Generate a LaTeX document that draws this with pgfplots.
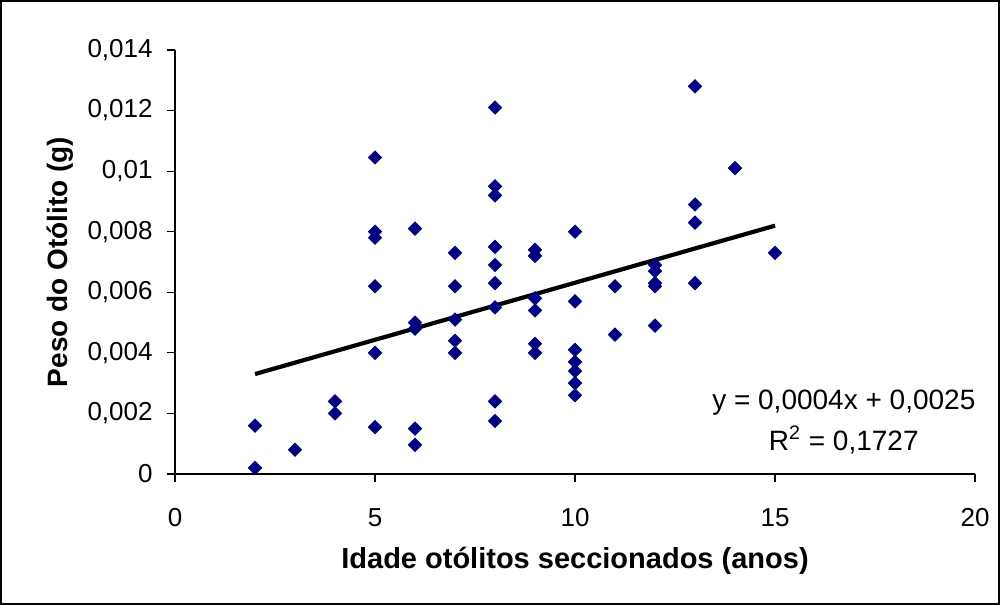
\documentclass[border=0pt]{standalone}
\usepackage{fontspec}
\setmainfont{Liberation Sans}
\usepackage{pgfplots}
\pgfplotsset{compat=1.18}
\definecolor{navyd}{RGB}{0,0,128}

\begin{document}
\begin{tikzpicture}
\fontsize{12}{14.4}\selectfont
\begin{axis}[
  at={(87.5pt,65.5pt)}, anchor=south west,
  scale only axis, width=400pt, height=212pt,
  xmin=0, xmax=20, ymin=0, ymax=0.014,
  xtick={0,5,10,15,20},
  ytick={0,0.002,0.004,0.006,0.008,0.01,0.012,0.014},
  scaled y ticks=false,
  axis x line=bottom, axis y line=left,
  axis line style={-, line width=0.6pt},
  tick align=outside, major tick length=4pt,
  tick style={black, line width=0.6pt},
  /pgf/number format/.cd, fixed, precision=3, use comma, assume math mode=true,
  /pgfplots/.cd,
  tick label style={font=\fontsize{13}{15.6}\selectfont},
  xticklabel style={yshift=-9pt},
  yticklabel style={xshift=-3pt},
  xlabel={\textbf{Idade otólitos seccionados (anos)}},
  ylabel={\textbf{Peso do Otólito (g)}},
  xlabel style={at={(axis description cs:0.5,-0.206)}, anchor=center, font=\fontsize{14.5}{17}\selectfont},
  ylabel style={at={(axis description cs:-0.143,0.5)}, anchor=center, font=\fontsize{14}{17}\selectfont},
  clip=false,
]
\addplot[only marks, mark=square*, mark size=2.35pt, mark options={rotate=45, fill=navyd, draw=navyd}] coordinates {
  (2,0.0016) (2,0.0002)
  (3,0.0008)
  (4,0.0024) (4,0.0020)
  (5,0.01045) (5,0.0080) (5,0.0078) (5,0.0062) (5,0.0040) (5,0.00155)
  (6,0.0081) (6,0.0050) (6,0.0048) (6,0.0015) (6,0.00096)
  (7,0.0073) (7,0.0062) (7,0.0051) (7,0.0044) (7,0.0040)
  (8,0.0121) (8,0.0095) (8,0.0092) (8,0.0075) (8,0.0069) (8,0.0063) (8,0.0055) (8,0.0024) (8,0.00175)
  (9,0.0074) (9,0.0072) (9,0.0058) (9,0.0054) (9,0.0043) (9,0.0040)
  (10,0.0080) (10,0.0057) (10,0.0041) (10,0.0037) (10,0.0034) (10,0.0030) (10,0.0026)
  (11,0.0062) (11,0.0046)
  (12,0.0069) (12,0.0067) (12,0.0063) (12,0.0062) (12,0.0049)
  (13,0.0128) (13,0.0089) (13,0.0083) (13,0.0063)
  (14,0.0101)
  (15,0.0073)
};
\addplot[black, line width=2.1pt] coordinates {(2,0.0033) (15,0.0082)};
\node[align=center, font=\fontsize{14}{20.5}\selectfont] at (axis cs:16.72,0.00172)
  {y = 0,0004x + 0,0025\\R\textsuperscript{2} = 0,1727};
\end{axis}
\draw[line width=1.2pt] (0.6pt,0.6pt) rectangle (499.4pt,301.9pt);
\end{tikzpicture}
\end{document}
